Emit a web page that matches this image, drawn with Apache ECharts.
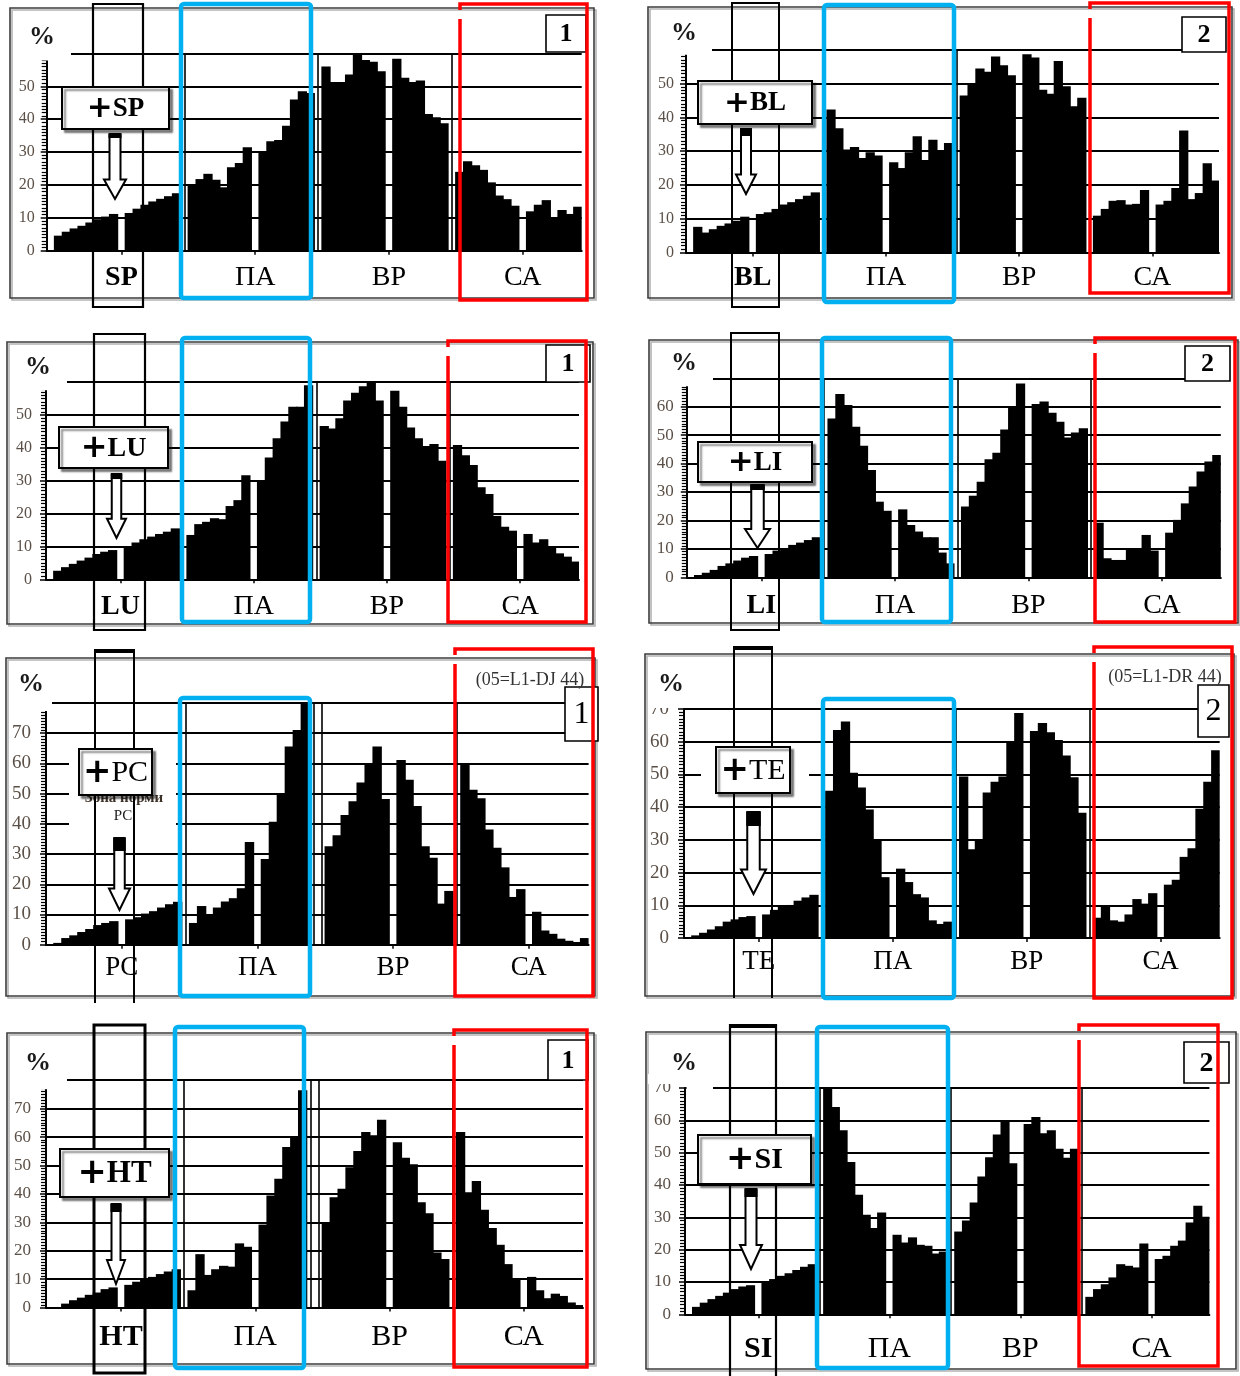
<!DOCTYPE html>
<html><head><meta charset="utf-8">
<script src="https://cdn.jsdelivr.net/npm/echarts@6/dist/echarts.min.js"></script>
<style>html,body{margin:0;padding:0;background:#fff}#c{width:1240px;height:1376px}</style>
</head><body><div id="c"></div>
<script>
// ---------- categories / labels ----------
const MARKERS = ['SP','BL','LU','LI','PC','TE','HT','SI'];
const ZONES = ['ПА','ВР','СА'];
const PANEL_NUM = ['1','2','1','2','1','2','1','2'];
const Y_MAX = [60,60,60,70,80,70,80,70];
const NOTES = ['','','','','(05=L1-DJ 44)','(05=L1-DR 44)','',''];
const ZONA_TEXT = ['Зона норми','PC'];

// ---------- values (% ; null = empty slot) ----------
const sp_ramp = [4.6,5.8,6.8,7.6,8.6,9.6,10.4,11.2,null,11.5,12.8,14,15,15.8,16.6,17.5];
const sp_pa   = [20.3,21.8,23.4,21.6,19.3,25.4,26.7,31.5,null,30,33.3,33.7,38,46,48.5,48];
const sp_vr   = [56,51.3,51.3,53.6,60,58,57.5,54.6,null,58.4,52.6,51.3,51.8,41.6,40.6,38.8];
const sp_sa   = [24,27.2,26,24.6,20.8,16.8,15.7,13.7,null,12,14,15.4,10,12.4,11.2,13.4];

const bl_ramp = [7.6,5.9,6.9,7.9,8.6,9.4,10.6,null,11.4,11.9,12.9,14.2,14.9,15.8,16.8,17.8];
const bl_pa   = [42.3,36.8,30.5,31.2,28,29.7,28.7,null,26.7,25,29.7,34.4,27.4,33.4,30.2,32.4];
const bl_vr   = [46.5,50,54.5,53.5,58,55.4,52.5,null,58.7,57.7,48.2,47,56.7,49.2,43.3,45.8];
const bl_sa   = [10.9,12.9,15.3,15.5,14.2,14.4,18.5,null,14.2,15.3,19.1,36.1,15.8,17.6,26.4,21.3];

const lu_ramp = [2.6,3.7,4.7,5.7,6.6,7.7,8.4,8.9,null,10.1,11.2,12.2,13,13.8,14.5,15.5];
const lu_pa   = [13.5,16.8,17.5,18.6,18.3,22.3,24.1,31.7,null,30.2,37.1,42.9,48,52.5,52.5,59.1];
const lu_vr   = [46.7,45.9,49,54.4,56.8,58.8,60,54.4,null,57.4,52.5,46.2,42.9,40.6,41.2,36.1];
const lu_sa   = [40.9,37.8,34.8,28,26,19.3,16,14.8,null,13.8,11.2,12.2,9.9,7.9,6.9,5.4];

const li_ramp = [0.8,1.6,2.6,4,4.9,5.9,6.9,7.5,null,8.2,9.4,10.2,11.4,12.2,13.1,14.1];
const li_pa   = [55.9,64.5,60.6,53,46.3,37.7,26.6,23.4,null,23.9,18.4,16.1,14.1,14.1,8.7,4.9];
const li_vr   = [24.9,28.7,33.6,41.5,43.8,52,60,68.2,null,61,61.8,57.9,54.7,49.2,50.9,52.4];
const li_sa   = [19.2,6.7,6.1,6.1,10.2,10.2,14.9,9.4,null,15.7,20.2,26,31.9,37.2,40.7,43];

const pc_ramp = [0.6,2.2,3.1,4.2,5.2,6.5,7.2,7.8,null,8.4,9.1,10.3,11.1,12.3,13.4,14.2];
const pc_pa   = [7.2,12.8,10,12.3,14.3,15.4,18.7,34,null,28.4,40.7,49.6,65.6,71.1,80,null];
const pc_vr   = [32.6,36.2,42.9,47.5,53.7,60,65.6,48.2,null,61.1,54.6,45.9,32.6,28.8,13.6,17.8];
const pc_sa   = [60,51.3,48.5,38.1,32.1,25.6,15.8,18.4,null,10.9,4.7,3.6,2,1.3,0.9,2.2];

const te_ramp = [0.8,1.6,2.6,3.6,5,5.7,6.4,6.7,null,7.2,8.6,9.8,10.1,11.4,12.4,13.2];
const te_pa   = [45,63.6,66.2,50.5,46,39.3,30.2,18.6,null,21.2,17.1,13.4,12.4,5.4,4.3,5];
const te_vr   = [49.4,27.1,30.2,44.5,47.8,49.4,59.8,68.8,null,63.3,65.7,62.9,60.5,55.8,49.1,38.3];
const te_sa   = [6.2,9.8,5.4,5,7.2,11.9,10.5,13.7,null,16.3,17.8,24.8,27.4,39.5,47.8,57.4];

const ht_ramp = [0.2,1.4,2.6,3.5,4.5,5.3,6.5,7.1,null,8,9.1,10,10.8,11.8,12.7,13.5];
const ht_pa   = [6.1,18.8,11.5,13.5,14.7,14.4,22.6,21.4,null,29.2,39.4,45.3,56.5,60,76.5,null];
const ht_vr   = [30,38.8,41.8,49.4,55.1,61.8,60.6,66.1,null,58.2,52.7,50.4,37.1,33.2,19.4,17.1];
const ht_sa   = [61.8,40.6,44.5,34.4,28,22.1,15.3,10.4,null,10.8,6.1,3.3,4.9,4.1,1.8,0.9];

const si_ramp = [2.3,3.6,4.7,5.7,6.7,7.8,8.6,9,null,9.8,10.9,11.9,12.7,13.7,14.7,15.5];
const si_pa   = [69.8,64.1,56.9,47.1,37,30.8,26.7,31.5,null,24.6,22.2,23.8,21.5,21.2,18.8,19.4];
const si_vr   = [25.6,29,34.6,42.6,48.6,55.6,60,46.7,null,58.9,61,56,56.9,51.2,48.4,51.2];
const si_sa   = [5.4,7.8,9.3,11.4,15.5,15,14.5,21.9,null,17.1,18.1,21.2,22.8,28.4,33.6,30.2];

const DATA = [
  [sp_ramp,sp_pa,sp_vr,sp_sa],[bl_ramp,bl_pa,bl_vr,bl_sa],
  [lu_ramp,lu_pa,lu_vr,lu_sa],[li_ramp,li_pa,li_vr,li_sa],
  [pc_ramp,pc_pa,pc_vr,pc_sa],[te_ramp,te_pa,te_vr,te_sa],
  [ht_ramp,ht_pa,ht_vr,ht_sa],[si_ramp,si_pa,si_vr,si_sa]
];

// ---------- layout (pixels) ----------
const LAYOUT = [
 {grid:[46.7,53.4,535,197.4],lab:27,lfs:28,yfs:16,ym:12,border:[10,8,594,298],pct:[42,37],numBox:[546,15,586,52],numFont:'bold 26px',blue:[181,4,311,298],red:[460,4,587,300],tag:[62,87,169,129],tagFont:27,tagBold:true,col:[93,4,143,307],colW:2.2,arrow:[104,134,126,199],arrowTop:4,topExt:71,axisShort:7,markBold:true},
 {grid:[686,49.8,533,202.7],lab:25,lfs:28,yfs:16,ym:12,border:[648,7,1232,298],pct:[684,33],numBox:[1182,17,1226,52],numFont:'bold 26px',blue:[824,5,954,302],red:[1090,3,1229,293],tag:[698,81,812,124],tagFont:27,tagBold:true,col:[732,3,779,307],colW:2,arrow:[736,129,756,194],arrowTop:7,topExt:712,axisShort:5,markBold:true},
 {grid:[46,382.2,533,197.1],lab:27,lfs:28,yfs:16,ym:14,border:[7,342,593,624],pct:[38,367],numBox:[546,345,590,382],numFont:'bold 26px',blue:[182,338,310,622],red:[448,341,586,622],tag:[59,427,168,468],tagFont:28,tagBold:true,col:[94,334,145,630],colW:2.2,arrow:[107,474,126,538],arrowTop:5,topExt:67,axisShort:8,markBold:true},
 {grid:[686.8,378.3,534,199],lab:28,lfs:28,yfs:17,ym:13,border:[649,340,1238,623],pct:[684,363],numBox:[1185,346,1230,381],numFont:'bold 26px',blue:[822,338,951,622],red:[1095,338,1235,622],tag:[698,442,812,482],tagFont:27,tagBold:true,col:[731,333,779,630],colW:2,arrow:[745,485,770,548],arrowTop:5,topExt:713,axisShort:8,markBold:true},
 {grid:[46,703,542.6,241.7],lab:23,lfs:27,yfs:19,ym:15,border:[6,658,595,996],pct:[31,684],numBox:[565,687,598,741],numFont:'32px',note:[530,680],blue:[180,698,310,996],red:[455,649,593,996],tag:[79,749,152,795],tagFont:30,tagBold:false,col:[95,650,134,1003],colOpen:true,colW:2,arrow:[109,838,130,910],arrowTop:13,topExt:52,axisShort:8,markBold:false,mask:[69,740,107,88],zona:[124,798,123,816],double:true},
 {grid:[684,709,535.7,229],lab:23.5,lfs:27,yfs:19,ym:15,border:[645,654,1234,996],pct:[671,684],numBox:[1198,685,1229,737],numFont:'32px',note:[1165,677],blue:[823,699,954,998],red:[1094,647,1232,998],tag:[716,747,790,793],tagFont:30,tagBold:false,col:[734,647,772,998],colOpen:true,colW:2,arrow:[741,812,766,894],arrowTop:14,topExt:null,axisShort:0,markBold:false,mask:[701,765,108,16],showMax:true,labMask:[648,694,34,14]},
 {grid:[46,1080.2,537,227.4],lab:30,lfs:30,yfs:17,ym:15,border:[7,1033,594,1364],pct:[38,1063],numBox:[548,1040,588,1080],numFont:'bold 26px',blue:[175,1027,304,1368],red:[454,1030,587,1367],tag:[60,1149,169,1197],tagFont:31,tagBold:true,col:[94,1025,145,1373],colW:3,arrow:[107,1204,125,1284],arrowTop:8,topExt:67,axisShort:9,markBold:true,double:true},
 {grid:[685,1088,524.4,226.3],lab:35,lfs:30,yfs:17,ym:14,border:[646,1032,1236,1369],pct:[684,1063],numBox:[1184,1042,1229,1083],numFont:'bold 28px',blue:[817,1027,948,1368],red:[1079,1025,1218,1366],tag:[698,1135,811,1184],tagFont:30,tagBold:true,col:[730,1025,776,1376],colOpen:true,colW:2.2,arrow:[740,1189,762,1269],arrowTop:8,topExt:713,axisShort:0,markBold:true,showMax:true,labMask:[648,1074,34,10]}
];

const SERIF = '"Liberation Serif","DejaVu Serif",serif';
const option = {animation:false, grid:[], xAxis:[], yAxis:[], series:[], graphic:{elements:[]}};
const G = option.graphic.elements;

function rect(x1,y1,x2,y2,style,z){ G.push({type:'rect',silent:true,z:z,shape:{x:x1,y:y1,width:x2-x1,height:y2-y1},style:style}); }
function line(x1,y1,x2,y2,style,z){ G.push({type:'line',silent:true,z:z,shape:{x1:x1,y1:y1,x2:x2,y2:y2},style:style}); }
function text(str,x,y,font,fill,z,extra){ G.push({type:'text',silent:true,z:z,style:Object.assign({text:str,x:x,y:y,font:font,fill:fill||'#000',textAlign:'center',textVerticalAlign:'middle',align:'center',verticalAlign:'middle'},extra||{})}); }

DATA.forEach(function(groups, i){
  const L = LAYOUT[i];
  const names = [MARKERS[i]].concat(ZONES);
  const ids=[], labels=[], isMarker=[], vals=[], seps=[];
  groups.forEach(function(g, gi){
    seps.push(ids.length);
    ids.push('c'+ids.length); labels.push(''); isMarker.push(false); vals.push(null);
    const gap = g.indexOf(null);
    g.forEach(function(v, k){
      ids.push('c'+ids.length);
      labels.push(k===gap ? names[gi] : '');
      isMarker.push(gi===0);
      vals.push(v);
    });
  });
  option.grid.push({left:L.grid[0],top:L.grid[1],width:L.grid[2],height:L.grid[3]});
  const lab = {fontFamily:SERIF,fontSize:L.lfs,lineHeight:L.lfs,color:'#000'};
  option.xAxis.push({
    type:'category', gridIndex:i, data:ids,
    axisLine:{show:true,lineStyle:{color:'#000',width:2}},
    axisTick:{show:true,alignWithLabel:true,length:4,interval:function(idx){return labels[idx]!=='';},lineStyle:{color:'#000',width:1.5}},
    axisLabel:{interval:0,margin:L.lab-L.lfs/2,
      formatter:function(v,idx){ if(!labels[idx]) return ''; return '{'+((isMarker[idx]&&L.markBold)?'b':'n')+'|'+labels[idx]+'}'; },
      rich:{b:Object.assign({fontWeight:'bold'},lab), n:Object.assign({fontWeight:'normal'},lab)}},
    splitLine:{show:false}
  });
  option.yAxis.push({
    type:'value', gridIndex:i, min:0, max:Y_MAX[i], interval:10,
    axisLine:{show:true,lineStyle:{color:'#000',width:2}},
    axisTick:{show:true,length:6,lineStyle:{color:'#000',width:1.5}},
    minorTick:{show:true,splitNumber:10,length:5,lineStyle:{color:'#000',width:1.2}},
    splitLine:{show:true,lineStyle:{color:'#000',width:2.2}},
    axisLabel:{color:'#5b5047',fontFamily:SERIF,fontSize:L.yfs,margin:L.ym,showMaxLabel:!!L.showMax}
  });
  const ml = [seps[1],seps[2],seps[3]].map(function(k){return {xAxis:ids[k]};});
  if (L.double) ml.push({xAxis:ids[seps[2]-1]});
  option.series.push({
    type:'bar', xAxisIndex:i, yAxisIndex:i, data:vals,
    barWidth:'118%', barGap:'0%', silent:true,
    itemStyle:{color:'#000',borderWidth:0},
    emphasis:{disabled:true},
    markLine:{silent:true,symbol:['none','none'],label:{show:false},emphasis:{disabled:true},
      lineStyle:{color:'#000',width:1.6,type:'solid'},data:ml}
  });

  // ----- decorations -----
  const b = L.border;
  rect(b[0],b[1],b[2],b[3],{fill:null,stroke:'#3c3c3c',lineWidth:1.6,shadowColor:'rgba(0,0,0,0.3)',shadowOffsetX:2,shadowOffsetY:2},10);
  const gl=L.grid[0], gt=L.grid[1];
  if (L.topExt!=null){
    const xs = L.axisShort>0 ? gl-9 : gl+1.5;
    rect(xs, gt-3, L.topExt, gt+Math.max(L.axisShort,2), {fill:'#fff'},11);
  }
  if (L.mask) rect(L.mask[0],L.mask[1],L.mask[0]+L.mask[2],L.mask[1]+L.mask[3],{fill:'#fff'},11);
  if (L.labMask) rect(L.labMask[0],L.labMask[1],L.labMask[0]+L.labMask[2],L.labMask[1]+L.labMask[3],{fill:'#fff'},11);
  if (L.zona){
    text(ZONA_TEXT[0],L.zona[0],L.zona[1],'bold 15px '+SERIF,'#3d3228',12);
    text(ZONA_TEXT[1],L.zona[2],L.zona[3],'15px '+SERIF,'#222',12);
  }
  // marker column
  const c = L.col;
  if (L.colOpen){
    G.push({type:'polyline',silent:true,z:20,shape:{points:[[c[0],c[3]],[c[0],c[1]],[c[2],c[1]],[c[2],c[3]]]},style:{fill:null,stroke:'#000',lineWidth:L.colW}});
    line(c[0],c[1]+1,c[2],c[1]+1,{stroke:'#000',lineWidth:4},20);
  } else {
    rect(c[0],c[1],c[2],c[3],{fill:null,stroke:'#000',lineWidth:L.colW},20);
  }
  // tag box
  const t = L.tag;
  rect(t[0],t[1],t[2],t[3],{fill:'#fff',stroke:'#000',lineWidth:2,shadowColor:'rgba(0,0,0,0.45)',shadowBlur:2,shadowOffsetX:3,shadowOffsetY:3},30);
  G.push({type:'text',silent:true,z:31,style:{
    text:'{p|+}{t|'+MARKERS[i]+'}', x:(t[0]+t[2])/2, y:(t[1]+t[3])/2+1,
    textAlign:'center',textVerticalAlign:'middle',align:'center',verticalAlign:'middle',
    rich:{p:{font:'bold '+(L.tagFont+4)+'px "DejaVu Sans",sans-serif',fill:'#000'},
          t:{font:(L.tagBold?'bold ':'')+L.tagFont+'px '+SERIF,fill:'#000'}}}});
  // arrow
  const a = L.arrow, cx=(a[0]+a[2])/2, sw=(a[2]-a[0])*0.5, hy=a[3]-(a[3]-a[1])*0.3;
  G.push({type:'polygon',silent:true,z:32,shape:{points:[[cx-sw/2,a[1]],[cx+sw/2,a[1]],[cx+sw/2,hy],[a[2],hy],[cx,a[3]],[a[0],hy],[cx-sw/2,hy]]},style:{fill:'#fff',stroke:'#000',lineWidth:2}});
  if (L.arrowTop>0) rect(cx-sw/2-1,a[1],cx+sw/2+1,a[1]+L.arrowTop,{fill:'#000'},33);
  // % sign
  text('%',L.pct[0],L.pct[1],'bold 26px '+SERIF,'#1a1a1a',34);
  // panel number
  const n = L.numBox;
  rect(n[0],n[1],n[2],n[3],{fill:'#fff',stroke:'#000',lineWidth:1.6},34);
  text(PANEL_NUM[i],(n[0]+n[2])/2,(n[1]+n[3])/2+1,L.numFont+' '+SERIF,'#000',35);
  if (L.note) text(NOTES[i],L.note[0],L.note[1],'18px '+SERIF,'#333',35);
  // highlight frames
  const bl = L.blue;
  G.push({type:'rect',silent:true,z:40,shape:{x:bl[0],y:bl[1],width:bl[2]-bl[0],height:bl[3]-bl[1],r:3},style:{fill:null,stroke:'#00b0f0',lineWidth:4.5}});
  const r = L.red;
  G.push({type:'polyline',silent:true,z:40,shape:{points:[[r[0],r[1]+15],[r[0],r[3]],[r[2],r[3]],[r[2],r[1]],[r[0],r[1]],[r[0],r[1]+6]]},style:{fill:null,stroke:'#ff0000',lineWidth:3.5,lineJoin:'miter'}});
});

const chart = echarts.init(document.getElementById('c'), null, {renderer:'canvas'});
chart.setOption(option);
</script>
</body></html>
